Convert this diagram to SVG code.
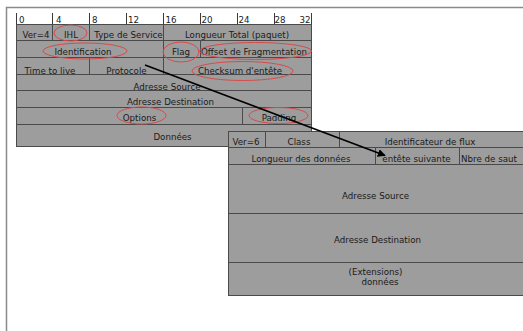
<svg xmlns="http://www.w3.org/2000/svg" width="523" height="331" viewBox="0 0 523 331">
<style>
.c{fill:#9d9d9d;stroke:#4a4a4a;stroke-width:1}
.t{font-family:"DejaVu Sans",Verdana,sans-serif;font-size:8.7px;fill:#1a1a1a;text-anchor:middle}
.r{font-family:"DejaVu Sans",Verdana,sans-serif;font-size:8.7px;fill:#1a1a1a}
.e{fill:none;stroke:#d84a4a;stroke-width:1}
.tick{stroke:#3a3a3a;stroke-width:1}
.frame{stroke:#8a8a8a;stroke-width:1.5;fill:none}
</style>
<defs>
<marker id="ah" viewBox="0 0 10 10" refX="9" refY="5" markerWidth="5" markerHeight="5" orient="auto" markerUnits="strokeWidth">
<path d="M0,0 L10,5 L0,10 z" fill="#000"/>
</marker>
</defs>
<rect width="523" height="331" fill="#fff"/>
<path class="frame" d="M6.5,331 V7.5 H523"/>

<g id="ruler">
<line class="tick" x1="16.5" y1="13" x2="16.5" y2="24.5"/>
<line class="tick" x1="52.5" y1="13" x2="52.5" y2="24.5"/>
<line class="tick" x1="89.5" y1="13" x2="89.5" y2="24.5"/>
<line class="tick" x1="126.5" y1="13" x2="126.5" y2="24.5"/>
<line class="tick" x1="163.5" y1="13" x2="163.5" y2="24.5"/>
<line class="tick" x1="200.5" y1="13" x2="200.5" y2="24.5"/>
<line class="tick" x1="237.5" y1="13" x2="237.5" y2="24.5"/>
<line class="tick" x1="274.5" y1="13" x2="274.5" y2="24.5"/>
<line class="tick" x1="311.5" y1="13" x2="311.5" y2="24.5"/>
<text class="r" x="19" y="22.5">0</text>
<text class="r" x="56" y="22.5">4</text>
<text class="r" x="92" y="22.5">8</text>
<text class="r" x="128" y="22.5">12</text>
<text class="r" x="165.5" y="22.5">16</text>
<text class="r" x="201.5" y="22.5">20</text>
<text class="r" x="238.5" y="22.5">24</text>
<text class="r" x="274.5" y="22.5">28</text>
<text class="r" x="299.5" y="22.5">32</text>
</g>

<g id="ipv4">
<g id="ver4"><rect class="c" x="16.5" y="24.5" width="36" height="16"/><text class="t" x="36" y="37.5">Ver=4</text></g>
<g id="ihl"><rect class="c" x="52.5" y="24.5" width="37" height="16"/><text class="t" x="71" y="37.5">IHL</text></g>
<g id="tos"><rect class="c" x="89.5" y="24.5" width="74" height="16"/><text class="t" x="128.5" y="37.5">Type de Service</text></g>
<g id="totlen"><rect class="c" x="163.5" y="24.5" width="148" height="16"/><text class="t" x="237" y="37.5">Longueur Total (paquet)</text></g>
<g id="ident"><rect class="c" x="16.5" y="40.5" width="147" height="17"/><text class="t" x="83" y="54.5">Identification</text></g>
<g id="flag"><rect class="c" x="163.5" y="40.5" width="37" height="17"/><text class="t" x="181" y="54.5">Flag</text></g>
<g id="offset"><rect class="c" x="200.5" y="40.5" width="111" height="17"/><text class="t" x="254" y="54.5">Offset de Fragmentation</text></g>
<g id="ttl"><rect class="c" x="16.5" y="57.5" width="73" height="17"/><text class="t" x="50" y="73.5">Time to live</text></g>
<g id="proto"><rect class="c" x="89.5" y="57.5" width="74" height="17"/><text class="t" x="126.5" y="73.5">Protocole</text></g>
<g id="checksum"><rect class="c" x="163.5" y="57.5" width="148" height="17"/><text class="t" x="240" y="73.5">Checksum d'entête</text></g>
<g id="src4"><rect class="c" x="16.5" y="74.5" width="295" height="16"/><text class="t" x="167" y="89.5">Adresse Source</text></g>
<g id="dst4"><rect class="c" x="16.5" y="90.5" width="295" height="17"/><text class="t" x="170.5" y="105">Adresse Destination</text></g>
<g id="options"><rect class="c" x="16.5" y="107.5" width="226" height="17"/><text class="t" x="139.5" y="120.5">Options</text></g>
<g id="padding"><rect class="c" x="242.5" y="107.5" width="69" height="17"/><text class="t" x="279" y="120.5">Padding</text></g>
<g id="data4"><rect class="c" x="16.5" y="124.5" width="295" height="22"/><text class="t" x="172.5" y="140">Données</text></g>
</g>

<g id="highlights">
<ellipse class="e" cx="70.5" cy="33" rx="16.5" ry="8"/>
<ellipse class="e" cx="85" cy="51" rx="42" ry="8"/>
<ellipse class="e" cx="181" cy="52" rx="18" ry="10"/>
<ellipse class="e" cx="255.5" cy="51" rx="56" ry="8.5"/>
<ellipse class="e" cx="242.5" cy="71" rx="50.5" ry="9.5"/>
<ellipse class="e" cx="141.5" cy="115.5" rx="24.5" ry="8.5"/>
<ellipse class="e" cx="278.5" cy="115.5" rx="29.5" ry="8"/>
</g>

<g id="ipv6">
<g id="ver6"><rect class="c" x="228.5" y="131.5" width="37" height="16"/><text class="t" x="246" y="144.5">Ver=6</text></g>
<g id="class"><rect class="c" x="265.5" y="131.5" width="74" height="16"/><text class="t" x="299" y="144.5">Class</text></g>
<g id="flow"><rect class="c" x="339.5" y="131.5" width="190" height="16"/><text class="t" x="430" y="144.5">Identificateur de flux</text></g>
<g id="paylen"><rect class="c" x="228.5" y="147.5" width="147" height="17"/><text class="t" x="301" y="161.5">Longueur des données</text></g>
<g id="nexthdr"><rect class="c" x="375.5" y="147.5" width="84" height="17"/><text class="t" x="416.5" y="161.5">entête suivante</text></g>
<g id="hop"><rect class="c" x="459.5" y="147.5" width="70" height="17"/><text class="t" x="489" y="161.5">Nbre de saut</text></g>
<g id="src6"><rect class="c" x="228.5" y="164.5" width="301" height="49"/><text class="t" x="375.5" y="199">Adresse Source</text></g>
<g id="dst6"><rect class="c" x="228.5" y="213.5" width="301" height="49"/><text class="t" x="377.5" y="242.5">Adresse Destination</text></g>
<g id="ext6"><rect class="c" x="228.5" y="262.5" width="301" height="33"/><text class="t" x="375.5" y="274.5">(Extensions)</text><text class="t" x="380" y="285">données</text></g>
</g>

<g id="connectors">
<line x1="145" y1="65" x2="385" y2="155.5" stroke="#000" stroke-width="1.6" marker-end="url(#ah)"/>
</g>
</svg>
